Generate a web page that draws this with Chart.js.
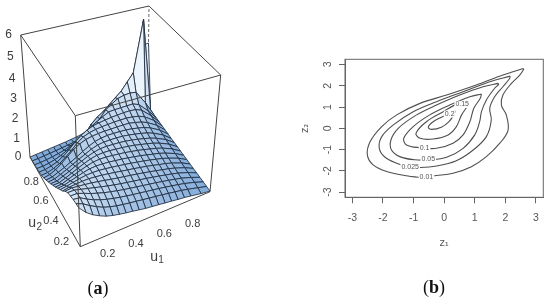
<!DOCTYPE html>
<html>
<head>
<meta charset="utf-8">
<script src="https://cdn.jsdelivr.net/npm/chart.js@4/dist/chart.umd.min.js"></script>
<style>
html, body { margin: 0; padding: 0; background: #fff; width: 550px; height: 302px; overflow: hidden; }
canvas { position: absolute; }
#surface { left: 0; top: 0; }
#contour { left: 290px; top: 40px; }
.caption { position: absolute; font: 18px "Liberation Serif", serif; color: #111; transform: translate(-50%, -50%); }
</style>
</head>
<body>
<canvas id="surface" width="270" height="302"></canvas>
<canvas id="contour" width="260" height="211"></canvas>
<div class="caption" style="left:98px;top:288px">(<b>a</b>)</div>
<div class="caption" style="left:434px;top:287px">(<b>b</b>)</div>
<script>
// Panel (a): copula density.
var u1Grid = [0, .05, .1, .15, .2, .25, .3, .35, .4, .45, .5, .55, .6, .65, .7, .75, .8, .85, .93, 1];
var u2Grid = [0, .05, .1, .15, .2, .25, .3, .35, .4, .45, .5, .55, .6, .65, .7, .75, .8, .85, .9, .95, 1];
var density = [
    [1.78, 1.45, 1.22, 1.05, .91, .82, .75, .69, .64, .58, .52, .48, .44, .39, .35, .30, .26, .20, .10, .03],
    [1.75, 1.62, 1.42, 1.25, 1.1, 1.0, .92, .86, .81, .76, .71, .66, .61, .56, .5, .44, .38, .3, .16, .03],
    [1.72, 1.68, 1.5, 1.35, 1.23, 1.13, 1.05, .98, .92, .86, .81, .75, .7, .64, .58, .51, .44, .36, .2, .03],
    [1.66, 1.66, 1.55, 1.42, 1.32, 1.22, 1.14, 1.07, 1.0, .94, .88, .82, .76, .7, .63, .56, .48, .4, .22, .03],
    [1.6, 1.6, 1.52, 1.44, 1.36, 1.28, 1.2, 1.13, 1.06, 1.0, .94, .88, .82, .75, .68, .6, .52, .43, .24, .03],
    [1.45, 1.48, 1.45, 1.41, 1.37, 1.31, 1.25, 1.18, 1.12, 1.06, 1.0, .94, .87, .8, .72, .64, .56, .46, .26, .03],
    [1.25, 1.3, 1.33, 1.35, 1.35, 1.32, 1.28, 1.23, 1.17, 1.11, 1.05, .99, .92, .85, .77, .68, .6, .49, .28, .03],
    [1.1, 1.14, 1.2, 1.26, 1.3, 1.31, 1.3, 1.26, 1.21, 1.16, 1.1, 1.04, .97, .9, .82, .73, .64, .52, .3, .03],
    [.95, .98, 1.06, 1.14, 1.22, 1.28, 1.3, 1.28, 1.25, 1.2, 1.15, 1.09, 1.02, .95, .86, .77, .68, .56, .32, .03],
    [.8, .82, .92, 1.02, 1.12, 1.21, 1.28, 1.3, 1.28, 1.24, 1.19, 1.14, 1.07, 1.0, .91, .82, .72, .6, .34, .03],
    [.67, .68, .78, .89, 1.01, 1.12, 1.22, 1.28, 1.29, 1.27, 1.22, 1.18, 1.12, 1.05, .96, .87, .77, .64, .37, .03],
    [.54, .55, .66, .77, .9, 1.02, 1.14, 1.23, 1.28, 1.28, 1.25, 1.22, 1.17, 1.1, 1.02, .92, .82, .68, .39, .03],
    [.42, .44, .54, .65, .78, .91, 1.04, 1.17, 1.25, 1.28, 1.27, 1.25, 1.21, 1.15, 1.07, .98, .88, .73, .42, .03],
    [.3, .33, .43, .54, .67, .8, .96, 1.1, 1.22, 1.27, 1.29, 1.27, 1.24, 1.2, 1.14, 1.05, .95, .8, .46, .04],
    [.2, .24, .36, .54, .76, .98, 1.14, 1.24, 1.28, 1.3, 1.3, 1.28, 1.27, 1.25, 1.22, 1.13, 1.03, .87, .5, .04],
    [.12, .13, .2, .32, .5, .72, .98, 1.16, 1.26, 1.3, 1.32, 1.32, 1.32, 1.3, 1.28, 1.22, 1.13, .97, .55, .04],
    [.07, .07, .12, .2, .34, .55, .8, 1.02, 1.18, 1.28, 1.32, 1.34, 1.36, 1.36, 1.36, 1.34, 1.28, 1.12, .6, .04],
    [.04, .03, .05, .1, .18, .3, .45, .62, .8, 1.0, 1.15, 1.3, 1.44, 1.44, 1.42, 1.4, 1.38, 1.22, .65, .05],
    [.02, .01, .02, .04, .07, .12, .2, .3, .42, .5, .6, 1.0, 1.35, 1.55, 1.72, 1.78, 1.78, 1.7, .9, .05],
    [.01, 0, .01, .01, .02, .03, .04, .06, .1, .25, .63, .88, 1.05, 1.3, 1.55, 1.8, 2.2, 2.6, 5.5, .05],
    [0, 0, 0, 0, 0, 0, 0, .01, .02, .05, .1, .2, .35, .5, .65, .8, 1.0, 1.2, 3.75, 3.8]
];
var zTicks = [0, 1, 2, 3, 4, 5, 6];
var u1Ticks = [.2, .4, .6, .8];
var u2Ticks = [.2, .4, .6, .8];

// Panel (b): contour levels, each line read as z1 / z2 pairs.
var contourTicks = [-3, -2, -1, 0, 1, 2, 3];
var level001 = [[2.58, 2.81], [1.92, 2.5], [1.05, 2.03], [.08, 1.56], [-.79, 1.17], [-1.55, .63], [-2.04, .08], [-2.42, -.63], [-2.51, -1.25], [-2.32, -1.72], [-1.88, -2.03], [-1.23, -2.23], [-.74, -2.3], [-.25, -2.22], [.29, -2.11], [.89, -1.8], [1.38, -1.33], [1.82, -.7], [2.09, -.08], [2.03, .63], [1.87, 1.09], [1.92, 1.56], [2.2, 2.11], [2.47, 2.5], [2.6, 2.77], [2.58, 2.81]];
var level0025 = [[2.16, 2.45], [1.49, 2.19], [.62, 1.72], [-.25, 1.25], [-1.01, .78], [-1.66, .16], [-2.04, -.39], [-2.12, -.94], [-1.93, -1.36], [-1.55, -1.64], [-1.17, -1.81], [-.79, -1.84], [-.25, -1.77], [.4, -1.52], [.95, -1.02], [1.38, -.39], [1.54, .39], [1.49, .94], [1.65, 1.48], [1.92, 1.95], [2.14, 2.34], [2.16, 2.45]];
var level005 = [[1.76, 2.11], [1.27, 1.95], [.51, 1.56], [-.25, 1.09], [-.9, .63], [-1.5, 0], [-1.74, -.55], [-1.72, -1.02], [-1.45, -1.33], [-.96, -1.48], [-.47, -1.48], [.08, -1.36], [.62, -.94], [1, -.31], [1.16, .31], [1.22, .78], [1.38, 1.33], [1.65, 1.88], [1.78, 2.06], [1.76, 2.11]];
var level01 = [[1.22, 1.61], [.84, 1.48], [.18, 1.09], [-.47, .63], [-1.01, .08], [-1.32, -.47], [-1.23, -.78], [-.79, -.91], [-.25, -.94], [.29, -.7], [.62, -.31], [.84, .31], [.97, .94], [1.18, 1.41], [1.22, 1.61]];
var level015 = [[.8, 1.25], [.46, 1.17], [-.03, .78], [-.58, .31], [-.92, -.23], [-.79, -.47], [-.36, -.5], [.13, -.31], [.4, .08], [.57, .63], [.78, 1.09], [.8, 1.25]];
var level02 = [[.37, .81], [.08, .63], [-.36, .31], [-.52, .05], [-.41, -.05], [-.09, .05], [.16, .31], [.29, .58], [.37, .81]];
var levelNames = ['0.01', '0.025', '0.05', '0.1', '0.15', '0.2'];
var levelLabelX = [-.58, -1.11, -.52, -.64, .59, .18];
var levelLabelY = [-2.3, -1.8, -1.45, -.91, 1.12, .67];

// Box corners on the canvas: front, right, back, left.
var floorCorners = [[80.3, 246.7], [210, 191.7], [147.7, 107], [30, 157]];
var ceilCorners = [[75.3, 115.7], [220.7, 75], [149, 6], [20.7, 35]];
var zMax = 6;

/**
 * Build the unit-square to quadrilateral mapping for a box face.
 * @param {Array} p The four corners.
 * @return {Function} Maps (u, v) to [x, y].
 */
function makeFace(p) {
    var sx = p[0][0] - p[1][0] + p[2][0] - p[3][0];
    var sy = p[0][1] - p[1][1] + p[2][1] - p[3][1];
    var dx1 = p[1][0] - p[2][0], dx2 = p[3][0] - p[2][0];
    var dy1 = p[1][1] - p[2][1], dy2 = p[3][1] - p[2][1];
    var den = dx1 * dy2 - dx2 * dy1;
    var g = (sx * dy2 - dx2 * sy) / den;
    var h = (dx1 * sy - sx * dy1) / den;
    return function(u, v) {
        var w = g * u + h * v + 1;
        return [
            ((p[1][0] - p[0][0] + g * p[1][0]) * u + (p[3][0] - p[0][0] + h * p[3][0]) * v + p[0][0]) / w,
            ((p[1][1] - p[0][1] + g * p[1][1]) * u + (p[3][1] - p[0][1] + h * p[3][1]) * v + p[0][1]) / w
        ];
    };
}

var floorFace = makeFace(floorCorners);
var ceilFace = makeFace(ceilCorners);

function project(u, v, z) {
    var a = floorFace(u, v), b = ceilFace(u, v), t = z / zMax;
    return {x: a[0] + (b[0] - a[0]) * t, y: a[1] + (b[1] - a[1]) * t};
}

// Height colour of a cell, pale on the ridge.
function cellColour(z) {
    var t = Math.min(1, z / 2.2);
    var r = Math.round(128 + (236 - 128) * t);
    var g = Math.round(170 + (244 - 170) * t);
    var b = Math.round(218 + (252 - 218) * t);
    return 'rgb(' + r + ',' + g + ',' + b + ')';
}

function edge(from, to, dashed) {
    return {
        data: [project(from[0], from[1], from[2]), project(to[0], to[1], to[2])],
        borderColor: dashed ? '#666' : '#444',
        borderWidth: 1,
        borderDash: dashed ? [3, 2] : [],
        fill: false
    };
}

var surfaceSets = [];

// First dataset is painted last: front of the box, then cells near to far, then the back.
surfaceSets.push(edge([0, 0, 0], [0, 0, zMax]));
surfaceSets.push(edge([1, 0, 0], [1, 0, zMax]));
surfaceSets.push(edge([0, 1, 0], [0, 1, zMax]));
surfaceSets.push(edge([0, 0, 0], [1, 0, 0]));
surfaceSets.push(edge([0, 0, 0], [0, 1, 0]));
surfaceSets.push(edge([0, 0, zMax], [1, 0, zMax]));
surfaceSets.push(edge([0, 0, zMax], [0, 1, zMax]));

u2Grid.slice(0, -1).forEach(function(v, j) {
    u1Grid.slice(0, -1).forEach(function(u, i) {
        var nextU = u1Grid[i + 1], nextV = u2Grid[j + 1];
        var a = density[j][i], b = density[j][i + 1], c = density[j + 1][i + 1], d = density[j + 1][i];
        surfaceSets.push({
            data: [project(u, v, a), project(nextU, v, b), project(nextU, nextV, c), project(u, nextV, d), project(u, v, a)],
            backgroundColor: cellColour((a + b + c + d) / 4),
            borderColor: '#1f2d3e',
            borderWidth: .85,
            fill: 'shape'
        });
    });
});

surfaceSets.push(edge([1, 1, 0], [1, 1, zMax], true));
surfaceSets.push(edge([0, 1, zMax], [1, 1, zMax]));
surfaceSets.push(edge([1, 0, zMax], [1, 1, zMax]));

// Axis text of the box, hung off the projected axis positions.
var surfaceLabels = {
    id: 'surfaceLabels',
    afterDraw: function(chart) {
        var ctx = chart.ctx;
        var sx = chart.scales.x, sy = chart.scales.y;
        function put(text, p, dx, dy, font) {
            ctx.font = font;
            ctx.fillText(text, sx.getPixelForValue(p.x) + dx, sy.getPixelForValue(p.y) + dy);
        }
        ctx.save();
        ctx.fillStyle = '#3c3c3c';
        ctx.textAlign = 'center';
        ctx.textBaseline = 'middle';
        zTicks.forEach(function(z) {
            // Ticks sit closer together low down, the box is in perspective.
            var t = z / zMax;
            var shown = zMax * t / (t + (1 - t) * 1.105);
            put(String(z), project(0, 1, shown), -12, 0, '12px "Liberation Sans"');
        });
        u1Ticks.forEach(function(u) {
            put(u.toFixed(1), project(u, 0, 0), 12 * u - 1, 17.2 + 4.8 * u, '11px "Liberation Sans"');
        });
        u2Ticks.forEach(function(v) {
            put(v.toFixed(1), project(0, v, 0), -8, 16 - 9 * v, '11px "Liberation Sans"');
        });
        put('u', project(.6, 0, 0), -4, 43, '14px "Liberation Sans"');
        put('1', project(.6, 0, 0), 3, 47, '10px "Liberation Sans"');
        put('u', project(0, .3, 0), -32, 5, '14px "Liberation Sans"');
        put('2', project(0, .3, 0), -25, 9, '10px "Liberation Sans"');
        ctx.restore();
    }
};

new Chart(document.getElementById('surface'), {
    type: 'line',
    data: {datasets: surfaceSets},
    plugins: [surfaceLabels],
    options: {
        responsive: false,
        animation: false,
        events: [],
        clip: false,
        layout: {padding: 0},
        elements: {point: {radius: 0}, line: {tension: 0, borderJoinStyle: 'round'}},
        scales: {
            x: {type: 'linear', min: 0, max: 270, display: false},
            y: {type: 'linear', min: 0, max: 302, reverse: true, display: false}
        },
        plugins: {legend: {display: false}, tooltip: {enabled: false}, filler: {drawTime: 'beforeDatasetDraw'}}
    }
});

function contourSet(points) {
    return {
        data: points.map(function(p) { return {x: p[0], y: p[1]}; }),
        borderColor: '#4f4f4f',
        borderWidth: 1.1,
        tension: .35,
        fill: false
    };
}

// Frame round the plot and the level labels with their gap in the line.
var contourExtras = {
    id: 'contourExtras',
    afterDatasetsDraw: function(chart) {
        var ctx = chart.ctx, area = chart.chartArea;
        ctx.save();
        ctx.strokeStyle = '#666';
        ctx.lineWidth = 1;
        ctx.strokeRect(area.left, area.top, area.right - area.left, area.bottom - area.top);
        ctx.font = '7px "Liberation Sans"';
        ctx.textAlign = 'center';
        ctx.textBaseline = 'middle';
        levelNames.forEach(function(name, i) {
            var x = chart.scales.x.getPixelForValue(levelLabelX[i]);
            var y = chart.scales.y.getPixelForValue(levelLabelY[i]);
            var w = ctx.measureText(name).width + 2;
            ctx.fillStyle = '#fff';
            ctx.fillRect(x - w / 2, y - 3.5, w, 7);
            ctx.fillStyle = '#555';
            ctx.fillText(name, x, y);
        });
        ctx.restore();
    }
};

function fixedTicks(scale) {
    scale.ticks = contourTicks.map(function(v) { return {value: v}; });
}

function tickText(v) {
    return String(v);
}

var axisFont = {family: 'Liberation Sans', size: 10.5};

new Chart(document.getElementById('contour'), {
    type: 'line',
    data: {datasets: [level001, level0025, level005, level01, level015, level02].map(contourSet)},
    plugins: [contourExtras],
    options: {
        responsive: false,
        animation: false,
        events: [],
        layout: {padding: {top: 19.3, right: 6.7}},
        elements: {point: {radius: 0}},
        scales: {
            x: {
                type: 'linear',
                min: -3.24,
                max: 3.24,
                afterBuildTicks: fixedTicks,
                afterFit: function(scale) { scale.height = 53.7; },
                grid: {drawOnChartArea: false, tickLength: 6, color: '#666'},
                border: {color: '#666'},
                ticks: {font: axisFont, color: '#555', padding: 9, maxRotation: 0, autoSkip: false, callback: tickText},
                title: {display: true, text: 'z\u2081', font: {family: 'DejaVu Sans', size: 10}, color: '#555', padding: {top: 0, bottom: 2}}
            },
            y: {
                type: 'linear',
                min: -3.24,
                max: 3.24,
                afterBuildTicks: fixedTicks,
                afterFit: function(scale) { scale.width = 55; },
                grid: {drawOnChartArea: false, tickLength: 6, color: '#666'},
                border: {color: '#666'},
                ticks: {font: axisFont, color: '#555', padding: 6, minRotation: 90, maxRotation: 90, crossAlign: 'center', autoSkip: false, callback: tickText},
                title: {display: true, text: 'z\u2082', font: {family: 'DejaVu Sans', size: 10}, color: '#555', padding: {top: 9, bottom: 0}}
            }
        },
        plugins: {legend: {display: false}, tooltip: {enabled: false}}
    }
});
</script>
</body>
</html>
